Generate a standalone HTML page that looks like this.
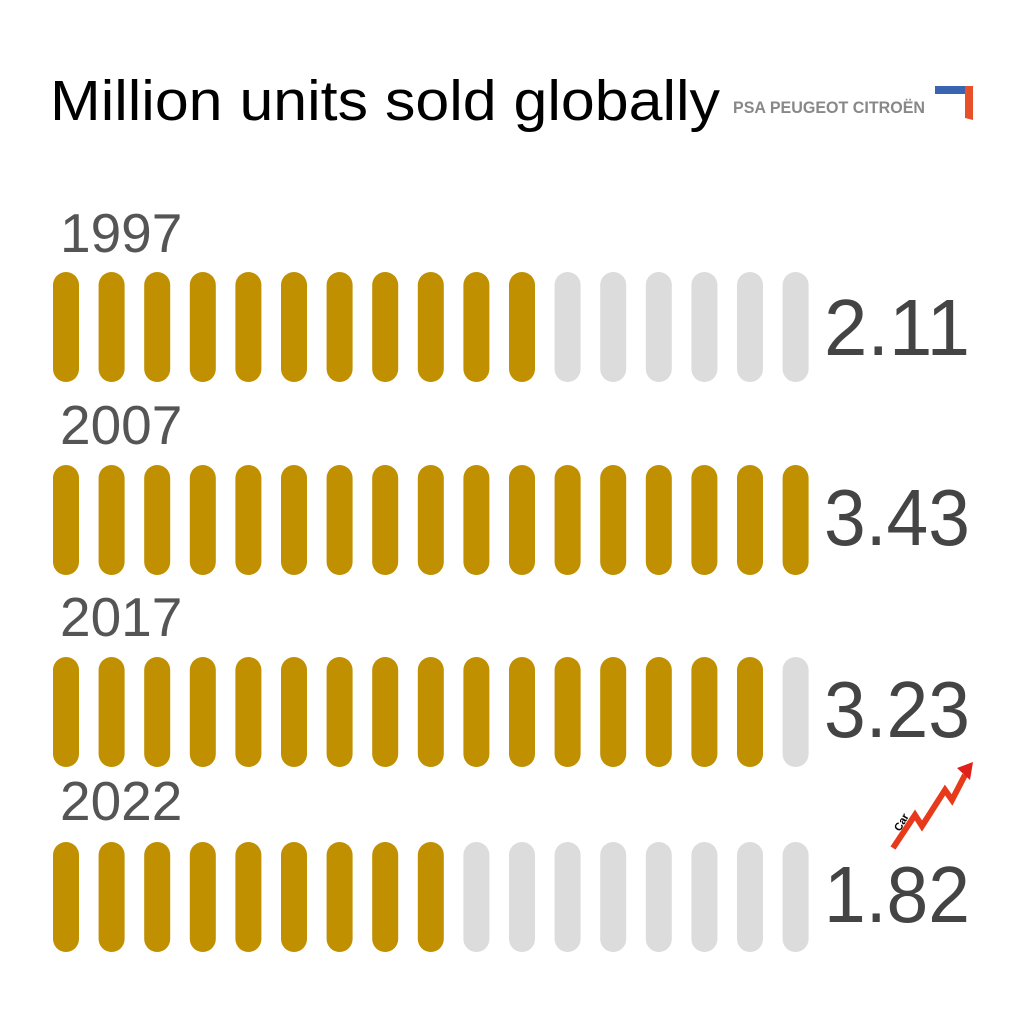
<!DOCTYPE html>
<html><head><style>body{margin:0;background:#fff}</style></head><body>
<svg width="1024" height="1024" xmlns="http://www.w3.org/2000/svg" font-family="Liberation Sans, sans-serif">
<rect width="1024" height="1024" fill="#fff"/>
<text x="50" y="120" font-size="57" fill="#000" textLength="670" lengthAdjust="spacingAndGlyphs">Million units sold globally</text>
<text x="733" y="113" font-size="17" font-weight="bold" fill="#888" textLength="192" lengthAdjust="spacingAndGlyphs">PSA PEUGEOT CITROËN</text>
<polygon points="935,86 973,86 973,94 935,94" fill="#3a64b0"/>
<polygon points="965,86 973,86 973,120 965,118" fill="#e8502a"/>
<g font-size="55" fill="#555">
<text x="60" y="252">1997</text><text x="60" y="444">2007</text><text x="60" y="636">2017</text><text x="60" y="820">2022</text>
</g>
<g font-size="80" fill="#444" lengthAdjust="spacingAndGlyphs">
<text x="824" y="355" textLength="146" lengthAdjust="spacingAndGlyphs">2.11</text>
<text x="824" y="545" textLength="146" lengthAdjust="spacingAndGlyphs">3.43</text>
<text x="824" y="737" textLength="146" lengthAdjust="spacingAndGlyphs">3.23</text>
<text x="824" y="922" textLength="146" lengthAdjust="spacingAndGlyphs">1.82</text>
</g>
<g id="bars"></g>
<polyline points="893,848 915,815 922,826 945,790 952,800 965,775" fill="none" stroke="#e63a1a" stroke-width="6"/>
<polygon points="957,768 973,762 970,780" fill="#e0201a"/>
<text x="900" y="832" font-size="11" font-weight="bold" transform="rotate(-60 900 832)">Car</text>
</svg>
<script>
var g=document.getElementById('bars'),rows=[[272,11],[465,17],[657,16],[842,9]],s='';
rows.forEach(function(r){for(var i=0;i<17;i++){var x=53+i*45.6;s+='<rect x="'+x+'" y="'+r[0]+'" width="26" height="110" rx="13" fill="'+(i<r[1]?'#c09000':'#dcdcdc')+'"/>';}});
g.innerHTML=s;
</script>
</body></html>
